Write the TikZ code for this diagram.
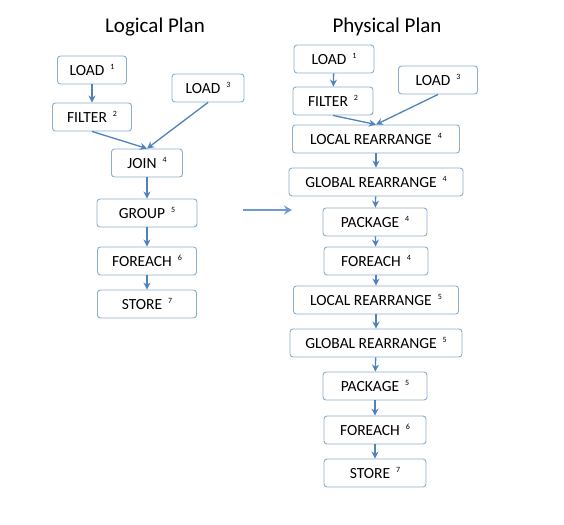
\documentclass[tikz,border=0pt]{standalone}
\usepackage{fontspec}
\setmainfont{Carlito}
\usepackage{xcolor}
\usetikzlibrary{positioning,arrows.meta}

\definecolor{boxline}{HTML}{8AAFCC}
\definecolor{flowblue}{HTML}{4F81BD}
\definecolor{bigarrow}{HTML}{6E9CD0}

\newcommand{\opnum}[1]{\hspace{6pt}\raisebox{6pt}{\fontsize{8}{9}\selectfont #1}}

\tikzset{
    opbox/.style={draw=boxline, line width=0.9pt, rounded corners=3pt, fill=white,
        minimum height=28pt, inner sep=2pt, font=\fontsize{15.5}{18}\selectfont},
    flow/.style={-{Stealth[length=7pt,width=7pt]}, draw=flowblue, line width=1.3pt},
    plantitle/.style={font=\fontsize{21}{24}\selectfont}
}

\begin{document}
\begin{tikzpicture}[x=1pt, y=-1pt]
    \useasboundingbox (0,0) rectangle (564,524);

    % Titles
    \node[plantitle] (ltitle) at (155,27) {Logical Plan};
    \node[plantitle] (ptitle) at (387,27) {Physical Plan};

    % Logical plan
    \node[opbox, minimum width=69pt] (lloada) at (92,70) {LOAD\opnum{1}};
    \node[opbox, minimum width=79pt] (lfilter) at (92,117) {FILTER\opnum{2}};
    \node[opbox, minimum width=72pt] (lloadb) at (208,88) {LOAD\opnum{3}};
    \node[opbox, minimum width=71pt] (ljoin) at (147,163) {JOIN\opnum{4}};
    \node[opbox, minimum width=100pt] (lgroup) at (147,213) {GROUP\opnum{5}};
    \node[opbox, minimum width=99pt] (lforeach) at (147,261) {FOREACH\opnum{6}};
    \node[opbox, minimum width=99pt] (lstore) at (147,304) {STORE\opnum{7}};

    \draw[flow] (lloada) -- (lfilter);
    \draw[flow] (lfilter.south) -- (ljoin.north);
    \draw[flow] (lloadb.south) -- (ljoin.north);
    \draw[flow] (ljoin) -- (lgroup);
    \draw[flow] (lgroup) -- (lforeach);
    \draw[flow] (lforeach) -- (lstore);

    % Compile step
    \coordinate (cfrom) at (243,210);
    \coordinate (cto) at (292,210);
    \draw[-{Stealth[length=8pt,width=9pt]}, draw=bigarrow, line width=1.8pt] (cfrom) -- (cto);

    % Physical plan
    \node[opbox, minimum width=80pt] (ploada) at (334,59) {LOAD\opnum{1}};
    \node[opbox, minimum width=80pt] (pfilter) at (333,101) {FILTER\opnum{2}};
    \node[opbox, minimum width=79pt] (ploadb) at (438,80) {LOAD\opnum{3}};
    \node[opbox, minimum width=167pt] (plocala) at (376,139) {LOCAL REARRANGE\opnum{4}};
    \node[opbox, minimum width=174pt] (pglobala) at (376,182) {GLOBAL REARRANGE\opnum{4}};
    \node[opbox, minimum width=104pt] (ppacka) at (375,222) {PACKAGE\opnum{4}};
    \node[opbox, minimum width=104pt] (pforeacha) at (376,261) {FOREACH\opnum{4}};
    \node[opbox, minimum width=165pt] (plocalb) at (376,300) {LOCAL REARRANGE\opnum{5}};
    \node[opbox, minimum width=172pt] (pglobalb) at (376,343) {GLOBAL REARRANGE\opnum{5}};
    \node[opbox, minimum width=104pt] (ppackb) at (375,386) {PACKAGE\opnum{5}};
    \node[opbox, minimum width=102pt] (pforeachb) at (375,430) {FOREACH\opnum{6}};
    \node[opbox, minimum width=102pt] (pstore) at (375,473) {STORE\opnum{7}};

    \draw[flow] (ploada) -- (pfilter);
    \draw[flow] (pfilter.south) -- (plocala.north);
    \draw[flow] (ploadb.south) -- (plocala.north);
    \draw[flow] (plocala) -- (pglobala);
    \draw[flow] (pglobala) -- (ppacka);
    \draw[flow] (ppacka) -- (pforeacha);
    \draw[flow] (pforeacha) -- (plocalb);
    \draw[flow] (plocalb) -- (pglobalb);
    \draw[flow] (pglobalb) -- (ppackb);
    \draw[flow] (ppackb) -- (pforeachb);
    \draw[flow] (pforeachb) -- (pstore);
\end{tikzpicture}
\end{document}
